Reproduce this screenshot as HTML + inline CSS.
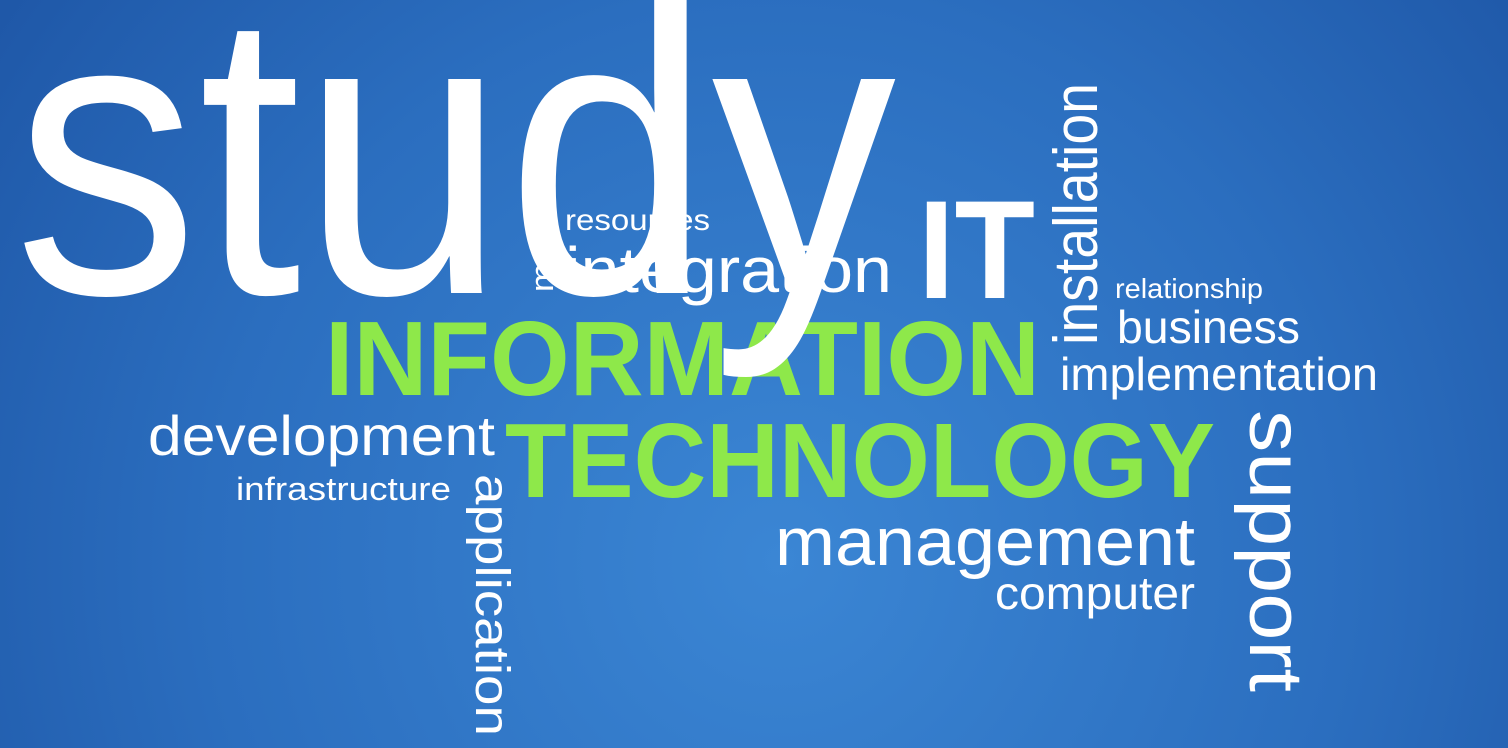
<!DOCTYPE html>
<html><head><meta charset="utf-8"><style>
html,body{margin:0;padding:0;width:1508px;height:748px;overflow:hidden}
svg{display:block}
text{font-family:"Liberation Sans",Arial,sans-serif}
</style></head><body>
<svg width="1508" height="748" viewBox="0 0 1508 748">
<defs>
<radialGradient id="bg" cx="780" cy="560" r="950" gradientUnits="userSpaceOnUse">
<stop offset="0" stop-color="#3b86d4"/>
<stop offset="0.6" stop-color="#2b6ebf"/>
<stop offset="1" stop-color="#1f58a8"/>
</radialGradient>
</defs>
<rect width="1508" height="748" fill="url(#bg)"/>
<g fill="#ffffff">
<text transform="translate(553,292) rotate(-90)" font-size="32" textLength="168" lengthAdjust="spacingAndGlyphs">multimedia</text>
<text x="565" y="230" font-size="30" textLength="145" lengthAdjust="spacingAndGlyphs">resources</text>
<text x="565" y="292" font-size="64" textLength="327" lengthAdjust="spacingAndGlyphs">integration</text>
<text x="918" y="298" font-size="140" font-weight="bold" textLength="117" lengthAdjust="spacingAndGlyphs">IT</text>
<text transform="translate(1097,345) rotate(-90)" font-size="62" textLength="262" lengthAdjust="spacingAndGlyphs">installation</text>
<text x="1115" y="298" font-size="28" textLength="148" lengthAdjust="spacingAndGlyphs">relationship</text>
<text x="1117" y="343" font-size="46" textLength="183" lengthAdjust="spacingAndGlyphs">business</text>
<text x="1060" y="390" font-size="46" textLength="318" lengthAdjust="spacingAndGlyphs">implementation</text>
<text x="148" y="455" font-size="56" textLength="347" lengthAdjust="spacingAndGlyphs">development</text>
<text x="236" y="500" font-size="32" textLength="215" lengthAdjust="spacingAndGlyphs">infrastructure</text>
<text transform="translate(476,474) rotate(90)" font-size="48" textLength="262" lengthAdjust="spacingAndGlyphs">application</text>
<text transform="translate(1250,410) rotate(90)" font-size="76" textLength="282" lengthAdjust="spacingAndGlyphs">support</text>
<text x="775" y="565" font-size="68" textLength="420" lengthAdjust="spacingAndGlyphs">management</text>
<text x="995" y="609" font-size="46" textLength="200" lengthAdjust="spacingAndGlyphs">computer</text>
</g>
<g fill="#8ee84a" font-weight="bold">
<text x="325" y="395" font-size="106" textLength="715" lengthAdjust="spacingAndGlyphs">INFORMATION</text>
<text x="505" y="497" font-size="106" textLength="710" lengthAdjust="spacingAndGlyphs">TECHNOLOGY</text>
</g>
<text x="14" y="293" font-size="405" fill="#ffffff" textLength="882" lengthAdjust="spacingAndGlyphs">study</text>
</svg>
</body></html>
